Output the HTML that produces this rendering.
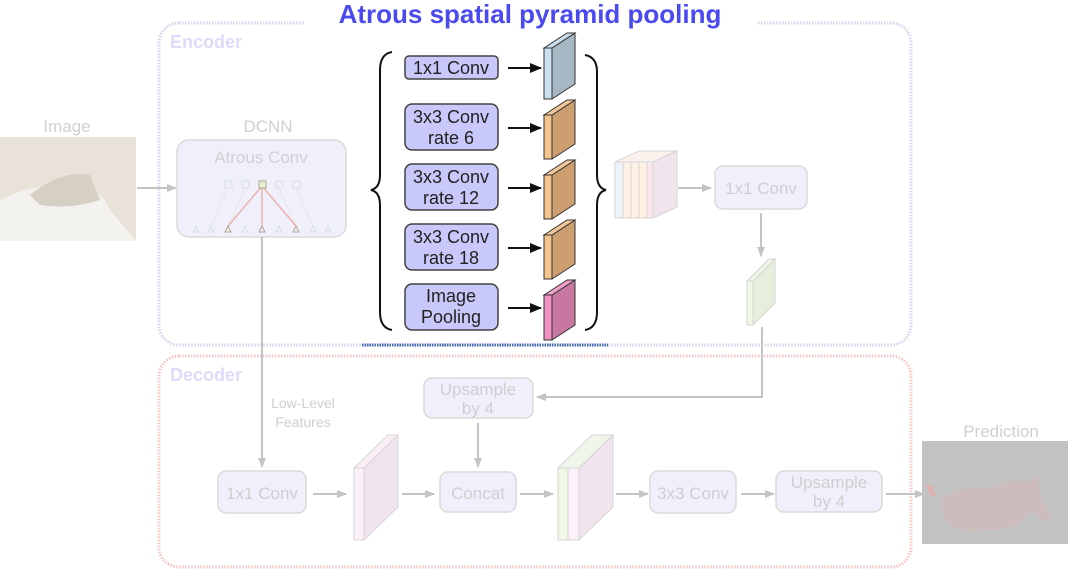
<!DOCTYPE html>
<html><head><meta charset="utf-8"><style>
html,body{margin:0;padding:0;background:#fff;width:1074px;height:577px;overflow:hidden}
svg text{font-family:"Liberation Sans",sans-serif}
</style></head><body>
<svg width="1074" height="577" viewBox="0 0 1074 577" xmlns="http://www.w3.org/2000/svg">
<defs>
<marker id="ga" markerWidth="10" markerHeight="8" refX="9" refY="4" orient="auto" markerUnits="userSpaceOnUse"><path d="M0,0 L10,4 L0,8 z" fill="#c4c4c4"/></marker>
<marker id="ba" markerWidth="12" markerHeight="10" refX="11" refY="5" orient="auto" markerUnits="userSpaceOnUse"><path d="M0,0 L12,5 L0,10 z" fill="#111"/></marker>
</defs>
<rect x="159" y="23" width="752" height="322" rx="20" fill="none" stroke="#cfd8ec" stroke-width="3" stroke-dasharray="1.5 1.5"/>
<rect x="159" y="356" width="752" height="211" rx="20" fill="none" stroke="#f8c4c4" stroke-width="3" stroke-dasharray="1.5 1.5"/>
<text x="170" y="48" font-size="18" font-weight="bold" fill="#dcdcfa">Encoder</text>
<text x="170" y="381" font-size="18" font-weight="bold" fill="#dcdcfa">Decoder</text>
<line x1="362" y1="345" x2="608" y2="345" stroke="#4a6ab0" stroke-width="3" stroke-dasharray="1.5 1"/>
<rect x="305" y="0" width="452" height="27" fill="#fff"/>
<text x="530" y="23" font-size="26" font-weight="bold" fill="#4a4af0" text-anchor="middle">Atrous spatial pyramid pooling</text>

<text x="67" y="132" font-size="17" fill="#d0d0d0" text-anchor="middle">Image</text>
<rect x="0" y="137" width="136" height="104" fill="#e8e2d8"/>
<path d="M0,200 Q40,180 70,190 Q100,185 110,210 L136,241 L0,241 z" fill="#f4f2ee"/>
<path d="M30,195 Q60,170 90,175 L100,200 Q70,210 40,205 z" fill="#d6cfc4"/>
<line x1="137" y1="188" x2="176" y2="188" stroke="#c4c4c4" stroke-width="2" marker-end="url(#ga)"/>
<text x="268" y="132" font-size="17" fill="#d0d0d0" text-anchor="middle">DCNN</text>
<rect x="177" y="140" width="169" height="97" rx="12" fill="#f0f0fc" stroke="#dadada" stroke-width="1.5"/>
<text x="261" y="163" font-size="17" fill="#d0d0d0" text-anchor="middle">Atrous Conv</text>
<g stroke="#e8e6e0" stroke-width="1"><line x1="228" y1="188" x2="211" y2="226"/><line x1="245" y1="188" x2="228" y2="226"/><line x1="279" y1="188" x2="296" y2="226"/><line x1="296" y1="188" x2="313" y2="226"/></g>
<g stroke="#f0b0b0" stroke-width="1.5"><line x1="262" y1="186" x2="228" y2="226"/><line x1="262" y1="186" x2="262" y2="226"/><line x1="262" y1="186" x2="296" y2="226"/></g>
<g fill="none" stroke="#d8dce4"><rect x="225" y="181" width="7" height="7"/><rect x="242" y="181" width="7" height="7"/><rect x="276" y="181" width="7" height="7"/><rect x="293" y="181" width="7" height="7"/></g>
<rect x="259" y="181" width="7" height="7" fill="#e6f0d0" stroke="#b0a890"/>
<g fill="none" stroke="#d8dce4"><path d="M193,232 l3,-6 l3,6z"/><path d="M208,232 l3,-6 l3,6z"/><path d="M242,232 l3,-6 l3,6z"/><path d="M276,232 l3,-6 l3,6z"/><path d="M310,232 l3,-6 l3,6z"/><path d="M325,232 l3,-6 l3,6z"/></g>
<g fill="none" stroke="#b0a890"><path d="M225,232 l3,-6 l3,6z"/><path d="M259,232 l3,-6 l3,6z"/><path d="M293,232 l3,-6 l3,6z"/></g>
<line x1="262" y1="237" x2="262" y2="467" stroke="#c4c4c4" stroke-width="2" marker-end="url(#ga)"/>
<text x="303" y="408" font-size="14" fill="#cfcfcf" text-anchor="middle">Low-Level</text>
<text x="303" y="427" font-size="14" fill="#cfcfcf" text-anchor="middle">Features</text>

<path d="M392,52 Q380,54 380,70 L380,175 Q380,188 371,190 Q380,192 380,205 L380,312 Q380,328 392,330" fill="none" stroke="#111" stroke-width="2"/>
<path d="M585,55 Q597,57 597,72 L597,175 Q597,188 606,190 Q597,192 597,205 L597,312 Q597,328 585,330" fill="none" stroke="#111" stroke-width="2"/>
<g font-size="18" fill="#222" text-anchor="middle">
<rect x="405" y="56" width="93" height="23" rx="4" fill="#c8c8fa" stroke="#444" stroke-width="1.5"/><text x="451" y="74">1x1 Conv</text>
<rect x="405" y="104" width="93" height="46" rx="7" fill="#c8c8fa" stroke="#444" stroke-width="1.5"/><text x="451" y="123">3x3 Conv</text><text x="451" y="144">rate 6</text>
<rect x="405" y="164" width="93" height="46" rx="7" fill="#c8c8fa" stroke="#444" stroke-width="1.5"/><text x="451" y="183">3x3 Conv</text><text x="451" y="204">rate 12</text>
<rect x="405" y="224" width="93" height="46" rx="7" fill="#c8c8fa" stroke="#444" stroke-width="1.5"/><text x="451" y="243">3x3 Conv</text><text x="451" y="264">rate 18</text>
<rect x="405" y="284" width="93" height="46" rx="7" fill="#c8c8fa" stroke="#444" stroke-width="1.5"/><text x="451" y="302">Image</text><text x="451" y="323">Pooling</text>
</g>
<g stroke="#111" stroke-width="2">
<line x1="508" y1="68" x2="541" y2="68" marker-end="url(#ba)"/>
<line x1="508" y1="128" x2="541" y2="128" marker-end="url(#ba)"/>
<line x1="508" y1="188" x2="541" y2="188" marker-end="url(#ba)"/>
<line x1="508" y1="248" x2="541" y2="248" marker-end="url(#ba)"/>
<line x1="508" y1="308" x2="541" y2="308" marker-end="url(#ba)"/>
</g>
<g stroke="#333" stroke-width="1">
<path d="M552,48 L575,33 L575,84 L552,99 z" fill="#a6b8c4"/><path d="M544,48 L567,33 L575,33 L552,48 z" fill="#c8dcec"/><rect x="544" y="48" width="8" height="51" fill="#c8e0f0"/>
<path d="M552,115 L575,100 L575,144 L552,159 z" fill="#cc9e70"/><path d="M544,115 L567,100 L575,100 L552,115 z" fill="#f2c898"/><rect x="544" y="115" width="8" height="44" fill="#f4c48e"/>
<path d="M552,175 L575,160 L575,204 L552,219 z" fill="#cc9e70"/><path d="M544,175 L567,160 L575,160 L552,175 z" fill="#f2c898"/><rect x="544" y="175" width="8" height="44" fill="#f4c48e"/>
<path d="M552,235 L575,220 L575,264 L552,279 z" fill="#cc9e70"/><path d="M544,235 L567,220 L575,220 L552,235 z" fill="#f2c898"/><rect x="544" y="235" width="8" height="44" fill="#f4c48e"/>
<path d="M552,295 L575,280 L575,325 L552,340 z" fill="#c878a0"/><path d="M544,295 L567,280 L575,280 L552,295 z" fill="#f0a0c8"/><rect x="544" y="295" width="8" height="45" fill="#f290c4"/>
</g>

<g stroke="#d6d6d6" stroke-width="1">
<path d="M653,162 L677,151 L677,207 L653,218 z" fill="#f2e4ec"/>
<path d="M615,162 L639,151 L677,151 L653,162 z" fill="#faf0ec"/>
<rect x="615" y="162" width="8" height="56" fill="#eef4fa"/>
<rect x="623" y="162" width="8" height="56" fill="#fdf0e2"/>
<rect x="631" y="162" width="8" height="56" fill="#fdf0e2"/>
<rect x="639" y="162" width="8" height="56" fill="#fdf0e2"/>
<rect x="647" y="162" width="6" height="56" fill="#fbe6f0"/>
</g>
<line x1="678" y1="188" x2="711" y2="188" stroke="#c4c4c4" stroke-width="2" marker-end="url(#ga)"/>
<g font-size="17" fill="#cfcfcf" text-anchor="middle">
<rect x="715" y="166" width="92" height="43" rx="8" fill="#f0f0fc" stroke="#dadada" stroke-width="1.5"/><text x="761" y="194">1x1 Conv</text>
</g>
<line x1="761" y1="213" x2="761" y2="256" stroke="#c4c4c4" stroke-width="2" marker-end="url(#ga)"/>
<g stroke="#d6d6d6"><path d="M753,281 L775,259 L775,303 L753,325 z" fill="#e6eedc"/><path d="M747,281 L769,259 L775,259 L753,281 z" fill="#eef6e6"/><rect x="747" y="281" width="6" height="44" fill="#eef8e4"/></g>
<polyline points="762,327 762,397 537,397" fill="none" stroke="#c4c4c4" stroke-width="2" marker-end="url(#ga)"/>

<g font-size="17" fill="#cfcfcf" text-anchor="middle">
<rect x="424" y="378" width="109" height="40" rx="8" fill="#f0f0fc" stroke="#dadada" stroke-width="1.5"/><text x="478" y="395">Upsample</text><text x="478" y="414">by 4</text>
<rect x="218" y="471" width="88" height="42" rx="8" fill="#f0f0fc" stroke="#dadada" stroke-width="1.5"/><text x="262" y="499">1x1 Conv</text>
<rect x="440" y="472" width="76" height="40" rx="8" fill="#f0f0fc" stroke="#dadada" stroke-width="1.5"/><text x="478" y="499">Concat</text>
<rect x="650" y="471" width="86" height="42" rx="8" fill="#f0f0fc" stroke="#dadada" stroke-width="1.5"/><text x="693" y="499">3x3 Conv</text>
<rect x="776" y="471" width="106" height="41" rx="8" fill="#f0f0fc" stroke="#dadada" stroke-width="1.5"/><text x="829" y="488">Upsample</text><text x="829" y="507">by 4</text>
</g>
<line x1="478" y1="423" x2="478" y2="467" stroke="#c4c4c4" stroke-width="2" marker-end="url(#ga)"/>
<g stroke="#d6d6d6">
<path d="M364,468 L398,435 L398,507 L364,540 z" fill="#f0e4ee"/><path d="M354,468 L388,435 L398,435 L364,468 z" fill="#f8eef4"/><rect x="354" y="468" width="10" height="72" fill="#fcf0fa"/>
<path d="M579,468 L613,435 L613,507 L579,540 z" fill="#f0e4ee"/><path d="M558,468 L592,435 L613,435 L579,468 z" fill="#f0f6ea"/><rect x="558" y="468" width="10" height="72" fill="#eef8e4"/><rect x="568" y="468" width="11" height="72" fill="#fcf0fa"/>
</g>
<g stroke="#c4c4c4" stroke-width="2">
<line x1="313" y1="494" x2="346" y2="494" marker-end="url(#ga)"/>
<line x1="402" y1="494" x2="434" y2="494" marker-end="url(#ga)"/>
<line x1="520" y1="494" x2="553" y2="494" marker-end="url(#ga)"/>
<line x1="616" y1="494" x2="648" y2="494" marker-end="url(#ga)"/>
<line x1="741" y1="494" x2="774" y2="494" marker-end="url(#ga)"/>
<line x1="886" y1="494" x2="924" y2="494" marker-end="url(#ga)"/>
</g>
<text x="1001" y="437" font-size="17" fill="#d0d0d0" text-anchor="middle">Prediction</text>
<rect x="922" y="441" width="146" height="103" fill="#c2c2c2"/>
<path d="M940,500 Q960,485 990,488 Q1010,478 1030,482 L1038,475 L1040,495 L1050,515 Q1055,525 1045,520 L1030,510 Q1020,530 990,530 Q960,535 945,520 z" fill="#ccbcbc"/>
<path d="M925,483 L932,486 L936,497 L930,495 z" fill="#e0b0b0"/>
</svg>
</body></html>
